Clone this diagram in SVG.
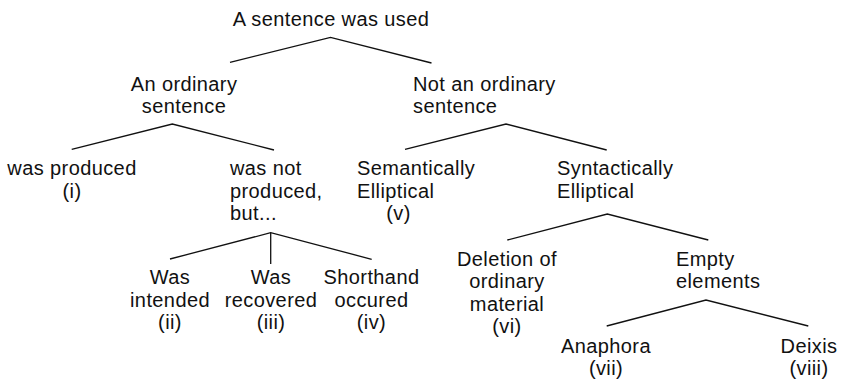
<svg xmlns="http://www.w3.org/2000/svg" width="841" height="380" viewBox="0 0 841 380">
<style>
text{font-family:"Liberation Sans",Arial,Helvetica,sans-serif;font-size:20px;fill:#111;letter-spacing:0.4px}
.m{text-anchor:middle}
.s{text-anchor:start}
.c{fill:none;stroke:#111;stroke-width:1.3}
</style>
<rect width="841" height="380" fill="#fff"/>
<g id="connectors">
<polyline class="c" points="230,62.3 330.5,37.3 431.5,63"/>
<polyline class="c" points="71.7,149.3 172.3,124 274,150"/>
<polyline class="c" points="405,149.3 506,124 606.7,150"/>
<polyline class="c" points="170,259 270.7,232.7 371.7,259.3"/>
<line class="c" x1="270.7" y1="232.7" x2="270.7" y2="264"/>
<polyline class="c" points="507.3,240 607.3,214 708.3,240"/>
<polyline class="c" points="606.7,326 706,300 808.3,326"/>
</g>
<g id="n_root"><text class="m" x="331" y="26">A sentence was used</text></g>
<g id="n_ordinary"><text class="m" x="184" y="91">An ordinary</text><text class="m" x="184" y="113">sentence</text></g>
<g id="n_not_ordinary"><text class="s" x="413" y="91">Not an ordinary</text><text class="s" x="413" y="113">sentence</text></g>
<g id="n_produced"><text class="m" x="72" y="175">was produced</text><text class="m" x="72" y="197.5">(i)</text></g>
<g id="n_not_produced"><text class="s" x="230" y="175">was not</text><text class="s" x="230" y="197.5">produced,</text><text class="s" x="230" y="220">but...</text></g>
<g id="n_semantic"><text class="s" x="357" y="175">Semantically</text><text class="s" x="357" y="197.5">Elliptical</text><text class="m" x="398.5" y="220">(v)</text></g>
<g id="n_syntactic"><text class="s" x="557" y="175">Syntactically</text><text class="s" x="557" y="197.5">Elliptical</text></g>
<g id="n_intended"><text class="m" x="170" y="284">Was</text><text class="m" x="170" y="306.5">intended</text><text class="m" x="170" y="329">(ii)</text></g>
<g id="n_recovered"><text class="m" x="271" y="284">Was</text><text class="m" x="271" y="306.5">recovered</text><text class="m" x="271" y="329">(iii)</text></g>
<g id="n_shorthand"><text class="m" x="371.5" y="284">Shorthand</text><text class="m" x="371.5" y="306.5">occured</text><text class="m" x="371.5" y="329">(iv)</text></g>
<g id="n_deletion"><text class="m" x="507" y="266">Deletion of</text><text class="m" x="507" y="288.3">ordinary</text><text class="m" x="507" y="310.6">material</text><text class="m" x="507" y="333">(vi)</text></g>
<g id="n_empty"><text class="s" x="676" y="266">Empty</text><text class="s" x="676" y="288.3">elements</text></g>
<g id="n_anaphora"><text class="m" x="606" y="352.7">Anaphora</text><text class="m" x="606" y="375">(vii)</text></g>
<g id="n_deixis"><text class="m" x="809" y="352.7">Deixis</text><text class="m" x="809" y="375">(viii)</text></g>
</svg>
